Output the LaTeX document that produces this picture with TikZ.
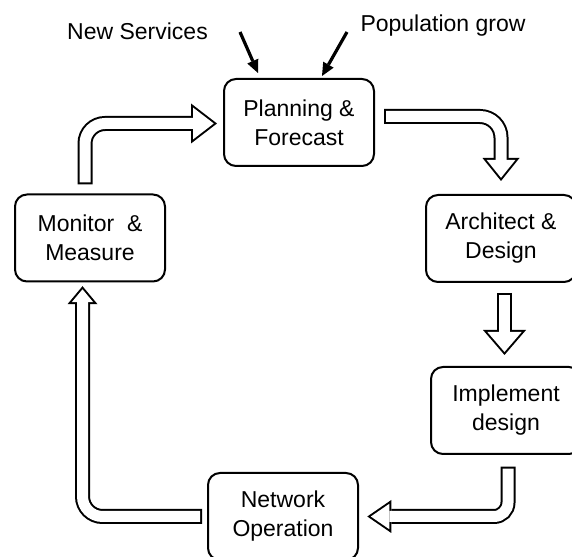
\documentclass[tikz,border=0pt]{standalone}
\usepackage{fontspec}
\setmainfont{Liberation Sans}
\usetikzlibrary{arrows.meta,calc}

\tikzset{
  stage/.style={draw, line width=2pt, rounded corners=12pt, minimum width=150pt,
    minimum height=87pt, inner sep=0pt, outer sep=0pt, align=center,
    font=\fontsize{23}{29}\selectfont},
  cue/.style={anchor=base, font=\fontsize{23}{29}\selectfont},
  push/.style={line width=3.2pt, -{Triangle[width=12pt,length=13pt,line width=0pt]}}
}

% hollow block arrow: head width, head length, path
\newcommand{\hollowarrow}[3]{%
  \pgfmathsetmacro\headd{2/sin(atan(#1/2/#2))}
  \pgfmathsetmacro\headl{#2-2-\headd}
  \pgfmathsetmacro\headw{#1*\headl/#2}
  \draw[line width=15pt, -{Triangle[width=#1pt,length=#2pt,line width=0pt]}] #3;
  \draw[line width=11pt, white, shorten <=2pt, shorten >=\headd pt,
    -{Triangle[width=\headw pt,length=\headl pt,line width=0pt]}] #3;
}

\begin{document}
\begin{tikzpicture}[x=1pt,y=1pt]
\useasboundingbox (0,0) rectangle (572,556);

\node[stage] (plan) at (299,433.5) {Planning \&\\Forecast};
\node[stage] (arch) at (501,317.5) {Architect \&\\Design};
\node[stage] (impl) at (506,145.5) {Implement\\design};
\node[stage] (net)  at (283,39.5)  {Network\\Operation};
\node[stage] (mon)  at (90,318)    {Monitor\ \ \&\\Measure};

\node[cue] (serv) at (137.5,516) {New Services};
\node[cue] (pop)  at (443,524.5) {Population grow};
\coordinate (servin) at (240,524);
\coordinate (popin)  at (347,524);
\draw[push] (servin) -- ($(plan.north)+(-41,6)$);
\draw[push] (popin) -- ($(plan.north)+(23,3)$);

% the cycle
\hollowarrow{37}{23}{($(plan.east)+(10,6)$) [rounded corners=21pt] -| ($(arch.north)+(0,14)$)}
\hollowarrow{43}{25}{($(arch.south)+(3.5,-11)$) -- ($(impl.north)+(-1.5,12)$)}
\hollowarrow{33}{24}{($(impl.south)+(2,-12.7)$) [rounded corners=14pt] |- ($(net.east)+(9.3,0)$)}
\hollowarrow{30}{18}{($(net.west)+(-6,0)$) [rounded corners=20pt] -| ($(mon.south)+(-7.5,-4.7)$)}
\hollowarrow{40}{26}{($(mon.north)+(-5,10)$) [rounded corners=20pt] |- ($(plan.west)+(-7,-1)$)}
\end{tikzpicture}
\end{document}
